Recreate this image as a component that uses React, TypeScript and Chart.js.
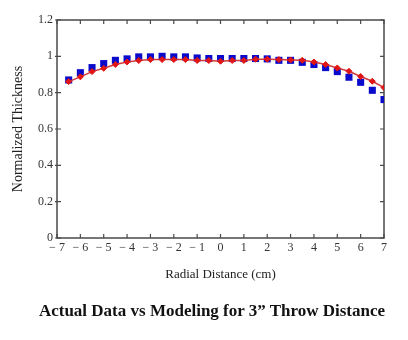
import { useEffect, useRef } from "react";
import { Chart, registerables } from "chart.js";

Chart.register(...registerables);

// Radial distance (cm)
const radialDistance = [
  -6.5, -6, -5.5, -5, -4.5, -4, -3.5, -3, -2.5, -2, -1.5, -1, -0.5, 0,
  0.5, 1, 1.5, 2, 2.5, 3, 3.5, 4, 4.5, 5, 5.5, 6, 6.5, 7,
];
// Actual data (blue squares)
const actualThickness = [
  0.870, 0.910, 0.938, 0.960, 0.978, 0.986, 0.997, 0.997, 1.000, 0.997,
  0.997, 0.991, 0.988, 0.988, 0.988, 0.988, 0.988, 0.986, 0.978, 0.978,
  0.967, 0.955, 0.938, 0.916, 0.885, 0.857, 0.813, 0.762,
];
// Modeling (red line + markers)
const modelThickness = [
  0.861, 0.887, 0.916, 0.934, 0.955, 0.969, 0.977, 0.982, 0.982, 0.982,
  0.982, 0.977, 0.977, 0.973, 0.977, 0.977, 0.984, 0.984, 0.982, 0.980,
  0.978, 0.969, 0.955, 0.936, 0.918, 0.889, 0.863, 0.828,
];
const xTickLabels = [
  "− 7", "− 6", "− 5", "− 4", "− 3", "− 2", "− 1", "0",
  "1", "2", "3", "4", "5", "6", "7",
];
const yTickLabels = ["0", "0.2", "0.4", "0.6", "0.8", "1", "1.2"];
const xTitle = "Radial Distance (cm)";
const yTitle = "Normalized Thickness";
const caption = "Actual Data vs Modeling for 3\u201D Throw Distance";

const SERIF = "'Liberation Serif', 'Times New Roman', serif";
const FRAME = "#4a4a4a";

const framePlugin = {
  id: "frameTicks",
  beforeDatasetsDraw(chart: any) {
    const { ctx, chartArea } = chart;
    const { left, right, top, bottom } = chartArea;
    const xs = chart.scales.x;
    const ys = chart.scales.y;
    const len = 4;
    ctx.save();
    ctx.strokeStyle = FRAME;
    ctx.lineWidth = 1.5;
    ctx.strokeRect(left, top, right - left, bottom - top);
    ctx.lineWidth = 1.2;
    ctx.beginPath();
    xs.ticks.forEach((t: any) => {
      const px = xs.getPixelForValue(t.value);
      ctx.moveTo(px, bottom);
      ctx.lineTo(px, bottom - len);
      ctx.moveTo(px, top);
      ctx.lineTo(px, top + len);
    });
    ys.ticks.forEach((t: any) => {
      const py = ys.getPixelForValue(t.value);
      ctx.moveTo(left - 2, py);
      ctx.lineTo(left + len, py);
      ctx.moveTo(right, py);
      ctx.lineTo(right - len, py);
    });
    ctx.stroke();
    ctx.restore();
  },
};

export default function App() {
  const canvasRef = useRef<HTMLCanvasElement | null>(null);

  useEffect(() => {
    const canvas = canvasRef.current;
    if (!canvas) return;
    const chart = new Chart(canvas, {
      type: "scatter",
      data: {
        datasets: [
          {
            label: "Modeling",
            data: radialDistance.map((x, i) => ({ x, y: modelThickness[i] })),
            showLine: true,
            borderColor: "#d23a3a",
            borderWidth: 1.5,
            pointStyle: "rectRot",
            pointRadius: 3,
            pointBackgroundColor: "#e01515",
            pointBorderColor: "#e01515",
            pointBorderWidth: 1,
          },
          {
            label: "Actual Data",
            data: radialDistance.map((x, i) => ({ x, y: actualThickness[i] })),
            showLine: false,
            pointStyle: "rect",
            pointRadius: 5,
            pointBackgroundColor: "#0a0acc",
            pointBorderColor: "#0a0acc",
            pointBorderWidth: 0,
          },
        ],
      },
      options: {
        animation: false,
        responsive: false,
        events: [],
        layout: { padding: { top: 20, right: 24, bottom: 38, left: 0 } },
        plugins: {
          legend: { display: false },
          tooltip: { enabled: false },
          title: { display: false },
        },
        scales: {
          x: {
            type: "linear",
            min: -7,
            max: 7,
            afterFit: (s: any) => {
              s.height = 64;
            },
            ticks: {
              stepSize: 1,
              padding: 3,
              color: "#333",
              font: { family: SERIF, size: 12 },
              maxRotation: 0,
              callback: (_v: any, i: number) => xTickLabels[i],
            },
            grid: { display: false, drawTicks: false },
            border: { display: false },
            title: {
              display: true,
              text: xTitle,
              color: "#222",
              font: { family: SERIF, size: 13 },
              padding: { top: 0, bottom: 20 },
            },
          },
          y: {
            type: "linear",
            min: 0,
            max: 1.2,
            afterFit: (s: any) => {
              s.width = 57;
            },
            ticks: {
              stepSize: 0.2,
              padding: 4,
              color: "#333",
              font: { family: SERIF, size: 12 },
              callback: (_v: any, i: number) => yTickLabels[i],
            },
            grid: { display: false, drawTicks: false },
            border: { display: false },
            title: {
              display: true,
              text: yTitle,
              color: "#222",
              font: { family: SERIF, size: 14 },
              padding: { top: 10, bottom: 0 },
            },
          },
        },
      },
      plugins: [framePlugin],
    } as any);
    return () => chart.destroy();
  }, []);

  return (
    <div
      style={{
        position: "absolute",
        left: 0,
        top: 0,
        width: 408,
        height: 340,
        background: "#fff",
      }}
    >
      <canvas ref={canvasRef} width={408} height={340} />
      <div
        style={{
          position: "absolute",
          left: 16,
          top: 302,
          width: 392,
          lineHeight: "18px",
          textAlign: "center",
          fontFamily: SERIF,
          fontWeight: "bold",
          fontSize: 17,
          color: "#111",
        }}
      >
        {caption}
      </div>
    </div>
  );
}
